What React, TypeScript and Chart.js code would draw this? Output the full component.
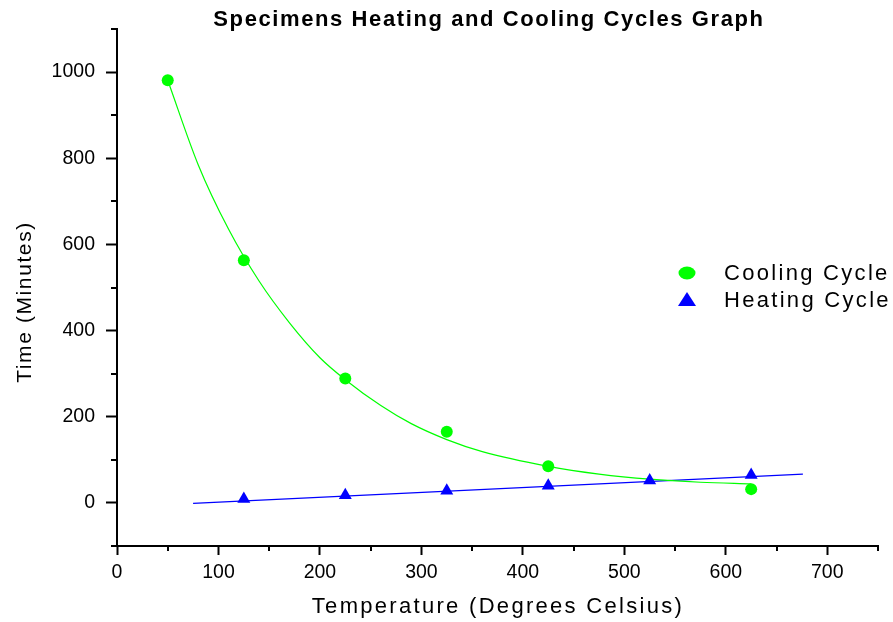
import React, { useEffect, useRef } from 'react';
import { Chart, registerables } from 'chart.js';

Chart.register(...registerables);

const TITLE = 'Specimens Heating and Cooling Cycles Graph';
const X_TITLE = 'Temperature (Degrees Celsius)';
const Y_TITLE = 'Time (Minutes)';
const COOLING_LABEL = 'Cooling Cycle';
const HEATING_LABEL = 'Heating Cycle';

const coolingTemps = [50, 125, 225, 325, 425, 625];
const coolingTimes = [981, 563, 289, 165, 85, 32];
const heatingTemps = [125, 225, 325, 425, 525, 625];
const heatingTimes = [9, 18, 28, 40, 52, 65];

const coolingFitTemps = [50, 80, 110, 140, 170, 200, 225, 260, 290, 325, 360, 425, 475, 525, 575, 625];
const coolingFitTimes = [981, 785, 635, 515, 418, 337, 286, 226, 184, 147, 119, 85, 67, 55, 48, 44];
const heatingFitTemps = [75, 676];
const heatingFitTimes = [-1, 67];

const xMajorTicks = [0, 100, 200, 300, 400, 500, 600, 700];
const xMinorTicks = [50, 150, 250, 350, 450, 550, 650, 750];
const yMajorTicks = [0, 200, 400, 600, 800, 1000];
const yMinorTicks = [-100, 100, 300, 500, 700, 900, 1100];

const GREEN = '#00ff00';
const BLUE = '#0000ff';
const FONT = '"Liberation Sans", Arial, sans-serif';

const zip = (xs: number[], ys: number[]) => xs.map((x, i) => ({ x, y: ys[i] }));

const decorPlugin = {
  id: 'decor',
  afterDraw(chart: any) {
    const ctx = chart.ctx as CanvasRenderingContext2D;
    const xs = chart.scales.x;
    const ys = chart.scales.y;
    const area = chart.chartArea;
    ctx.save();
    // minor ticks
    ctx.strokeStyle = '#000';
    ctx.lineWidth = 2;
    ctx.beginPath();
    xMinorTicks.forEach((v) => {
      const px = Math.round(xs.getPixelForValue(v));
      ctx.moveTo(px, area.bottom);
      ctx.lineTo(px, area.bottom + 5);
    });
    yMinorTicks.forEach((v) => {
      const py = Math.round(ys.getPixelForValue(v));
      ctx.moveTo(area.left - 6, py);
      ctx.lineTo(area.left, py);
    });
    ctx.stroke();

    ctx.fillStyle = '#000';
    // title
    (ctx as any).letterSpacing = '1.6px';
    ctx.font = `bold 22px ${FONT}`;
    ctx.textAlign = 'center';
    ctx.textBaseline = 'alphabetic';
    ctx.fillText(TITLE, 489, 26);

    // x title
    (ctx as any).letterSpacing = '2.3px';
    ctx.font = `22px ${FONT}`;
    ctx.fillText(X_TITLE, 498, 613);

    // y title
    ctx.save();
    ctx.translate(31, 302);
    ctx.rotate(-Math.PI / 2);
    (ctx as any).letterSpacing = '1.6px';
    ctx.font = `21px ${FONT}`;
    ctx.fillText(Y_TITLE, 0, 0);
    ctx.restore();

    // legend
    (ctx as any).letterSpacing = '2.3px';
    ctx.font = `22px ${FONT}`;
    ctx.textAlign = 'left';
    ctx.fillText(COOLING_LABEL, 724, 280);
    ctx.fillText(HEATING_LABEL, 724, 307);
    ctx.fillStyle = GREEN;
    ctx.beginPath();
    ctx.ellipse(687, 273, 8.5, 6.5, 0, 0, Math.PI * 2);
    ctx.fill();
    ctx.fillStyle = BLUE;
    ctx.beginPath();
    ctx.moveTo(687, 292);
    ctx.lineTo(696, 306);
    ctx.lineTo(678, 306);
    ctx.closePath();
    ctx.fill();
    ctx.restore();
  },
};

export default function App() {
  const canvasRef = useRef<HTMLCanvasElement | null>(null);

  useEffect(() => {
    document.body.style.margin = '0';
    const canvas = canvasRef.current;
    if (!canvas) return;
    const chart = new Chart(canvas, {
      type: 'scatter',
      data: {
        datasets: [
          {
            label: COOLING_LABEL,
            data: zip(coolingTemps, coolingTimes),
            pointStyle: 'circle',
            pointRadius: 6,
            backgroundColor: GREEN,
            borderColor: GREEN,
            borderWidth: 0,
            showLine: false,
          },
          {
            label: HEATING_LABEL,
            data: zip(heatingTemps, heatingTimes),
            pointStyle: 'triangle',
            pointRadius: 7.5,
            backgroundColor: BLUE,
            borderColor: BLUE,
            borderWidth: 0,
            showLine: false,
          },
          {
            label: 'Cooling fit',
            data: zip(coolingFitTemps, coolingFitTimes),
            showLine: true,
            pointRadius: 0,
            borderColor: GREEN,
            borderWidth: 1.2,
            cubicInterpolationMode: 'monotone',
            fill: false,
          },
          {
            label: 'Heating fit',
            data: zip(heatingFitTemps, heatingFitTimes),
            showLine: true,
            pointRadius: 0,
            borderColor: BLUE,
            borderWidth: 1.2,
            fill: false,
          },
        ],
      },
      options: {
        animation: false,
        responsive: false,
        maintainAspectRatio: false,
        layout: { padding: { top: 29, right: 15, left: 0, bottom: 0 } },
        plugins: {
          legend: { display: false },
          title: { display: false },
          tooltip: { enabled: false },
        },
        scales: {
          x: {
            type: 'linear',
            min: 0,
            max: 750,
            afterFit: (s: any) => {
              s.height = 76;
            },
            ticks: {
              stepSize: 50,
              autoSkip: false,
              maxRotation: 0,
              padding: 6,
              color: '#000',
              font: { family: FONT, size: 19.5 },
              callback: (v: any) => (xMajorTicks.includes(Number(v)) ? String(v) : ''),
            },
            grid: {
              drawOnChartArea: false,
              drawTicks: true,
              tickLength: 9,
              tickWidth: 2,
              tickColor: (c: any) =>
                c.tick && xMajorTicks.includes(c.tick.value) ? '#000' : 'rgba(0,0,0,0)',
            },
            border: { display: true, color: '#000', width: 2 },
          },
          y: {
            type: 'linear',
            min: -100,
            max: 1100,
            afterFit: (s: any) => {
              s.width = 117;
            },
            ticks: {
              stepSize: 100,
              autoSkip: false,
              padding: 11,
              color: '#000',
              font: { family: FONT, size: 19.5 },
              callback: (v: any) => (yMajorTicks.includes(Number(v)) ? String(v) : ''),
            },
            grid: {
              drawOnChartArea: false,
              drawTicks: true,
              tickLength: 11,
              tickWidth: 2,
              tickColor: (c: any) =>
                c.tick && yMajorTicks.includes(c.tick.value) ? '#000' : 'rgba(0,0,0,0)',
            },
            border: { display: true, color: '#000', width: 2 },
          },
        },
      },
      plugins: [decorPlugin],
    } as any);
    return () => chart.destroy();
  }, []);

  return (
    <div style={{ position: 'fixed', left: 0, top: 0, width: 893, height: 622, background: '#fff' }}>
      <canvas ref={canvasRef} width={893} height={622} style={{ width: 893, height: 622 }} />
    </div>
  );
}
